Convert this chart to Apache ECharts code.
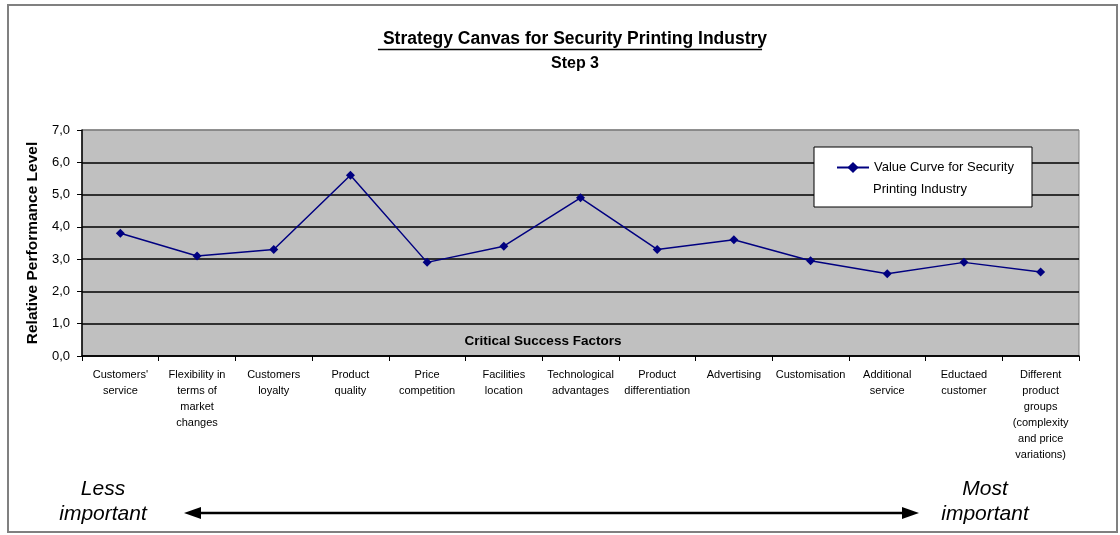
<!DOCTYPE html>
<html>
<head>
<meta charset="utf-8">
<script src="https://cdn.jsdelivr.net/npm/echarts@6/dist/echarts.min.js"></script>
<style>
html,body{margin:0;padding:0;background:#fff;}
#chart{width:1120px;height:535px;}
</style>
</head>
<body>
<div id="chart"></div>
<script>
const categories = [
  "Customers'\nservice",
  "Flexibility in\nterms of\nmarket\nchanges",
  "Customers\nloyalty",
  "Product\nquality",
  "Price\ncompetition",
  "Facilities\nlocation",
  "Technological\nadvantages",
  "Product\ndifferentiation",
  "Advertising",
  "Customisation",
  "Additional\nservice",
  "Eductaed\ncustomer",
  "Different\nproduct\ngroups\n(complexity\nand price\nvariations)"
];
const valueCurve = [3.8, 3.1, 3.3, 5.6, 2.9, 3.4, 4.9, 3.3, 3.6, 2.95, 2.55, 2.9, 2.6];
const seriesName = "Value Curve for Security Printing Industry";
const legendLines = ["Value Curve for Security", "Printing Industry"];
const titleText = "Strategy Canvas for Security Printing Industry";
const subtitleText = "Step 3";
const yAxisName = "Relative Performance Level";
const xAxisName = "Critical Success Factors";
const yTicks = { min: 0, max: 7, interval: 1 };

const FONT = "'Liberation Sans', Arial, sans-serif";
const TITLE_FONT_SIZE = 17.5;
const cv = document.createElement('canvas').getContext('2d');
cv.font = "bold " + TITLE_FONT_SIZE + "px " + FONT;
const titleW = cv.measureText(titleText).width;
const titleCx = 570;

const chart = echarts.init(document.getElementById('chart'), null, {renderer: 'canvas'});
chart.setOption({
  backgroundColor: '#ffffff',
  animation: false,
  textStyle: { fontFamily: FONT },
  title: [
    { text: titleText, left: titleCx, top: 25, textAlign: 'center',
      textStyle: { fontFamily: FONT, fontSize: TITLE_FONT_SIZE, fontWeight: 'bold', color: '#000' } },
    { text: subtitleText, left: titleCx, top: 51, textAlign: 'center',
      textStyle: { fontFamily: FONT, fontSize: 16, fontWeight: 'bold', color: '#000' } }
  ],
  grid: {
    left: 82, top: 130, right: 41, bottom: 179,
    show: true, backgroundColor: '#c0c0c0', borderColor: '#808080', borderWidth: 1
  },
  legend: {
    left: 836, top: 161, padding: 0, z: 10,
    itemWidth: 32, itemHeight: 14, itemGap: 5,
    data: [seriesName],
    formatter: function () { return legendLines[0]; },
    textStyle: { fontFamily: FONT, fontSize: 13, color: '#000' }
  },
  xAxis: {
    type: 'category',
    data: categories,
    boundaryGap: true,
    axisLine: { show: true, lineStyle: { color: '#000', width: 1.5 } },
    axisTick: { show: true, length: 5, lineStyle: { color: '#000' } },
    axisLabel: { interval: 0, margin: 11, fontSize: 11, lineHeight: 16, color: '#000', fontFamily: FONT, align: 'center' },
    splitLine: { show: false }
  },
  yAxis: {
    type: 'value',
    min: yTicks.min, max: yTicks.max, interval: yTicks.interval,
    name: yAxisName,
    nameLocation: 'middle',
    nameRotate: 90,
    nameGap: 40,
    nameTextStyle: { fontFamily: FONT, fontSize: 15.5, fontWeight: 'bold', color: '#000' },
    axisLine: { show: true, lineStyle: { color: '#000', width: 1.5 } },
    axisTick: { show: true, length: 5, lineStyle: { color: '#000' } },
    axisLabel: { margin: 12, fontSize: 13, color: '#000', fontFamily: FONT,
      formatter: function (v) { return v.toFixed(1).replace('.', ','); } },
    splitLine: { show: true, lineStyle: {
      color: ['#000', '#000', '#000', '#000', '#000', '#000', '#000', '#808080'], width: 1.5 } }
  },
  series: [{
    name: seriesName,
    type: 'line',
    data: valueCurve,
    symbol: 'diamond',
    symbolSize: 9,
    lineStyle: { color: '#000080', width: 1.5 },
    itemStyle: { color: '#000080' },
    z: 3
  }],
  graphic: [
    { type: 'rect', z: 0, silent: true,
      shape: { x: 8, y: 5, width: 1109, height: 527 },
      style: { fill: null, stroke: '#808080', lineWidth: 2 } },
    { type: 'rect', z: 5, silent: true,
      shape: { x: 814, y: 147, width: 218, height: 60 },
      style: { fill: '#fff', stroke: '#000', lineWidth: 1 } },
    { type: 'text', z: 11, silent: true, x: 873, y: 189,
      style: { text: legendLines[1], fill: '#000', font: '13px ' + FONT, align: 'left', verticalAlign: 'middle' } },
    { type: 'line', z: 5, silent: true,
      shape: { x1: titleCx - titleW / 2, y1: 49.5, x2: titleCx + titleW / 2, y2: 49.5 },
      style: { stroke: '#000', lineWidth: 1.5 } },
    { type: 'text', z: 6, silent: true, x: 543, y: 341,
      style: { text: xAxisName, fill: '#000', font: 'bold 13.5px ' + FONT, align: 'center', verticalAlign: 'middle' } },
    { type: 'text', z: 6, silent: true, x: 103, y: 502,
      style: { text: 'Less\nimportant', fill: '#000', font: 'italic 21px ' + FONT, lineHeight: 25, align: 'center', verticalAlign: 'middle' } },
    { type: 'text', z: 6, silent: true, x: 985, y: 502,
      style: { text: 'Most\nimportant', fill: '#000', font: 'italic 21px ' + FONT, lineHeight: 25, align: 'center', verticalAlign: 'middle' } },
    { type: 'line', z: 6, silent: true,
      shape: { x1: 198, y1: 513, x2: 905, y2: 513 },
      style: { stroke: '#000', lineWidth: 2.5 } },
    { type: 'polygon', z: 6, silent: true,
      shape: { points: [[184, 513], [201, 507], [201, 519]] },
      style: { fill: '#000' } },
    { type: 'polygon', z: 6, silent: true,
      shape: { points: [[919, 513], [902, 507], [902, 519]] },
      style: { fill: '#000' } }
  ]
});
</script>
</body>
</html>
